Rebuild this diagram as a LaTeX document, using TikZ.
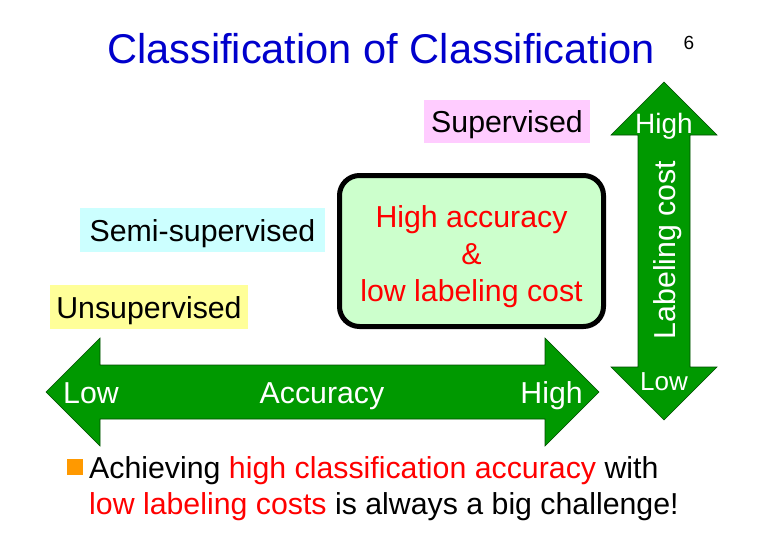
\documentclass[tikz,border=0pt]{standalone}
\usepackage{fontspec}
\setmainfont{Liberation Sans}
\definecolor{titleblue}{RGB}{0,0,204}
\definecolor{arrowgreen}{RGB}{0,153,0}
\definecolor{pinkbg}{RGB}{255,204,255}
\definecolor{cyanbg}{RGB}{204,255,255}
\definecolor{yellowbg}{RGB}{255,255,153}
\definecolor{greenbg}{RGB}{204,255,204}
\definecolor{txtred}{RGB}{255,0,0}
\definecolor{bulletorange}{RGB}{255,153,0}
\begin{document}
\begin{tikzpicture}[x=1pt,y=-1pt,
  txt/.style={font=\fontsize{30.3}{36}\selectfont, inner sep=0pt, anchor=base},
  wlab/.style={font=\fontsize{28}{33}\selectfont, text=white, inner sep=0pt, anchor=base},
  wlabs/.style={font=\fontsize{26}{31}\selectfont, text=white, inner sep=0pt, anchor=base},
  garrow/.style={fill=arrowgreen, draw=black!50!arrowgreen, line width=0.6pt},
  ]
\useasboundingbox (0,0) rectangle (773,549);
\fill[white] (0,0) rectangle (773,549);

% title
\node[font=\fontsize{41.6}{48}\selectfont, text=titleblue, inner sep=0pt, anchor=base] (title) at (381,63) {Classification of Classification};
\node[font=\fontsize{19}{22}\selectfont, inner sep=0pt, anchor=base] (pagenum) at (689,49) {6};

% tag boxes
\fill[pinkbg] (424,100) rectangle (590,143);
\node[txt] (sup) at (507,132.5) {Supervised};
\fill[cyanbg] (80,208) rectangle (325,252);
\node[txt] (semi) at (202.5,241) {Semi-supervised};
\fill[yellowbg] (50,285) rectangle (248,329);
\node[txt] (unsup) at (149,318) {Unsupervised};

% central box
\node[draw=black, line width=5pt, fill=greenbg, rounded corners=20pt,
      minimum width=264pt, minimum height=151pt, inner sep=0pt] (goal) at (471.5,251) {};
\node[txt, text=txtred] (g1) at (471.5,227) {High accuracy};
\node[txt, text=txtred] (g2) at (471.5,264) {\&};
\node[txt, text=txtred] (g3) at (471.5,301) {low labeling cost};

% horizontal arrow
\draw[garrow] (46,392) -- (100,338) -- (100,365) -- (545,365) -- (545,338) -- (599,392)
  -- (545,446) -- (545,419) -- (100,419) -- (100,446) -- cycle;
\node[txt, text=white, anchor=base west] (alow) at (63,403) {Low};
\node[txt, text=white] (aacc) at (322,403) {Accuracy};
\node[txt, text=white, anchor=base east] (ahigh) at (583,403) {High};

% vertical arrow
\draw[garrow] (664,82) -- (717,135) -- (690,135) -- (690,367) -- (717,367) -- (664,420)
  -- (611,367) -- (638,367) -- (638,135) -- (611,135) -- cycle;
\node[wlab] (vhigh) at (664,133) {High};
\node[wlabs] (vlow) at (664,390) {Low};
\node[txt, text=white, rotate=90] (vcost) at (675,250) {Labeling cost};

% bottom text
\fill[bulletorange] (67,459) rectangle (83,475);
\node[txt, anchor=base west] (line1) at (89,478) {Achieving \textcolor{txtred}{high classification accuracy} with};
\node[txt, anchor=base west] (line2) at (89,514) {\textcolor{txtred}{low labeling costs} is always a big challenge!};
\end{tikzpicture}
\end{document}
